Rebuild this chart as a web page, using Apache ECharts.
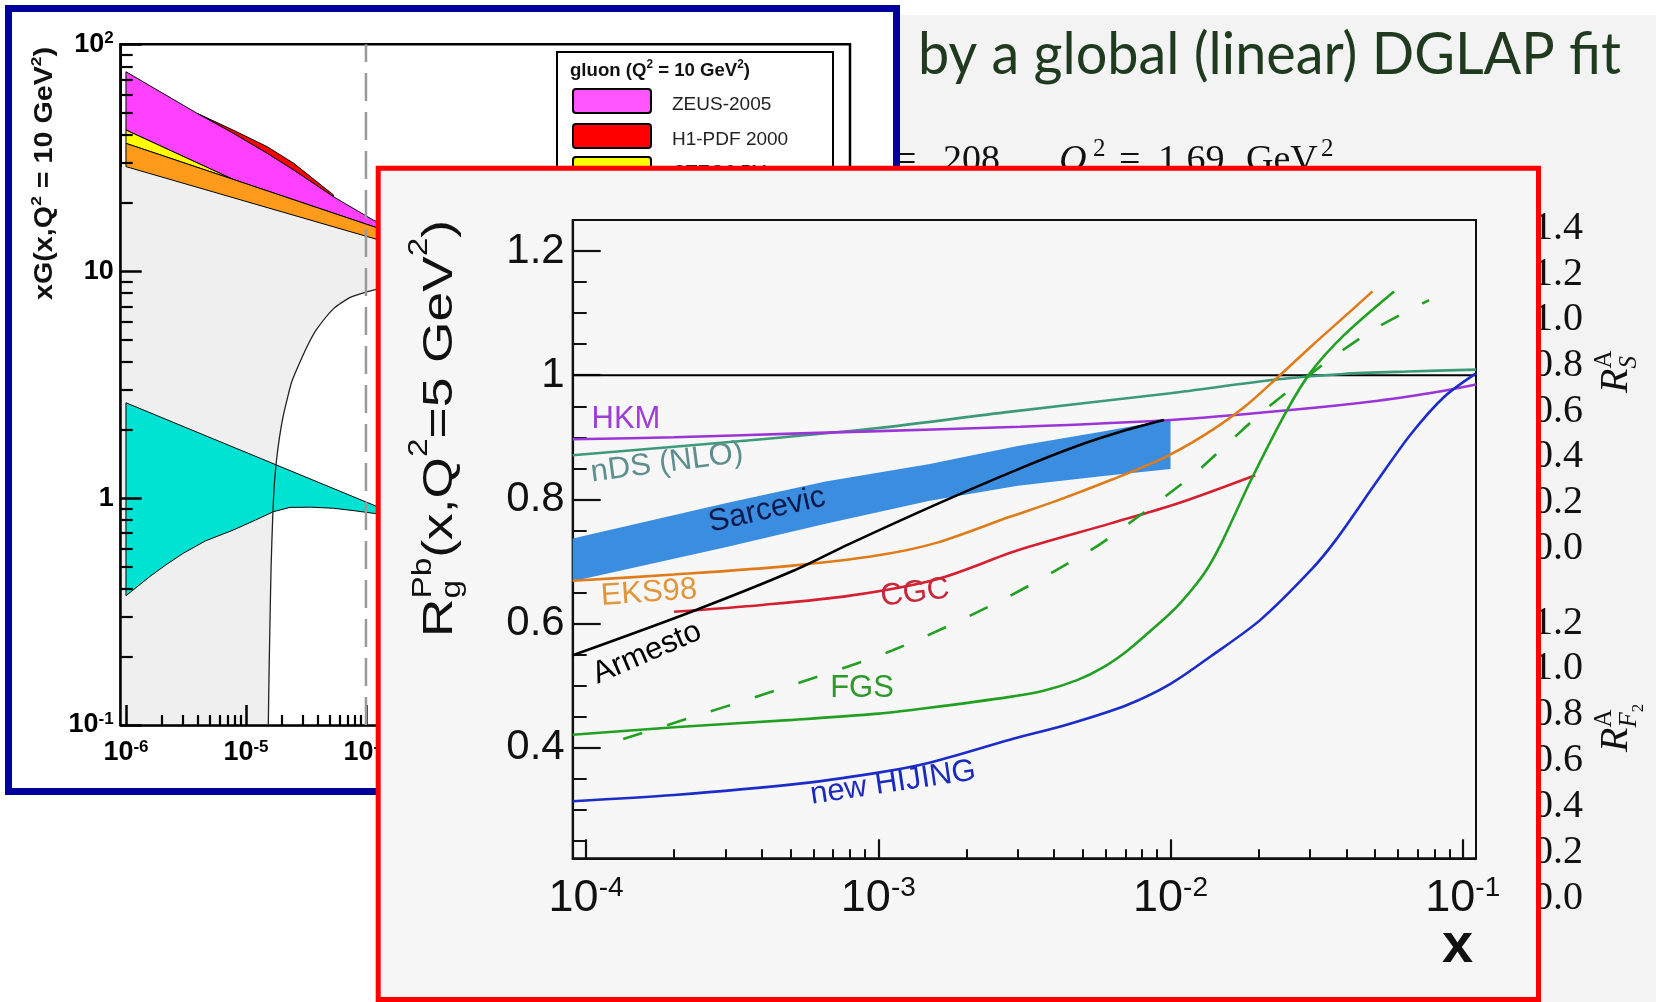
<!DOCTYPE html>
<html><head><meta charset="utf-8">
<script src="https://cdn.jsdelivr.net/npm/echarts@6.0.0/dist/echarts.min.js"></script>
<style>html,body{margin:0;padding:0;background:#fff;}#c{width:1656px;height:1002px;}</style>
</head><body><div id="c"></div>
<script>
// ---------------- main chart: R_g^Pb(x, Q^2 = 5 GeV^2) ----------------
const mainXRange = [9e-5, 0.111];
const mainYRange = [0.222, 1.25];
const mainXTicks = [1e-4, 1e-3, 1e-2, 1e-1];
const mainYTicks = [0.4, 0.6, 0.8, 1, 1.2];
const mainYMinor = [0.25,0.3,0.35,0.45,0.5,0.55,0.65,0.7,0.75,0.85,0.9,0.95,1.05,1.1,1.15];

const hkmX = [9e-5, 2e-4, 5.1e-4, 1e-3, 3.06e-3, 1e-2, 2.57e-2, 5.13e-2, 8.63e-2, 0.111];
const hkmY = [0.897, 0.900, 0.906, 0.910, 0.917, 0.928, 0.944, 0.959, 0.975, 0.985];
const ndsX = [9e-5, 4e-4, 1e-3, 2.8e-3, 1e-2, 2.3e-2, 3.9e-2, 6.5e-2, 0.111];
const ndsY = [0.871, 0.897, 0.915, 0.941, 0.971, 0.993, 1.002, 1.006, 1.009];
const sarX = [9e-5, 3e-4, 6.6e-4, 1.5e-3, 3e-3, 6e-3, 1e-2];
const sarLow = [0.668, 0.723, 0.761, 0.798, 0.822, 0.838, 0.849];
const sarHigh = [0.737, 0.794, 0.829, 0.857, 0.886, 0.910, 0.929];
const armX = [9e-5, 2.32e-4, 5.12e-4, 7.94e-4, 1.58e-3, 3.06e-3, 4.79e-3, 7.1e-3, 9.5e-3];
const armY = [0.549, 0.620, 0.685, 0.728, 0.792, 0.850, 0.886, 0.912, 0.928];
const eksX = [9e-5, 2e-4, 5e-4, 1e-3, 1.58e-3, 2.82e-3, 3.98e-3, 6.31e-3, 9.48e-3, 1.3e-2, 1.78e-2, 2.32e-2, 3.02e-2, 3.93e-2, 4.91e-2];
const eksY = [0.669, 0.679, 0.693, 0.710, 0.730, 0.772, 0.796, 0.832, 0.867, 0.903, 0.948, 0.996, 1.046, 1.094, 1.135];
const cgcX = [2e-4, 4e-4, 8e-4, 1.6e-3, 3e-3, 6.2e-3, 1.05e-2, 1.95e-2];
const cgcY = [0.619, 0.630, 0.645, 0.672, 0.718, 0.761, 0.793, 0.839];
const fgsX = [9e-5, 2e-4, 5.1e-4, 1e-3, 1.47e-3, 2.82e-3, 3.68e-3, 4.79e-3, 5.9e-3, 7.1e-3, 8.53e-3, 1.05e-2, 1.3e-2, 1.48e-2, 1.88e-2, 2.5e-2, 3.02e-2, 3.93e-2, 5.82e-2];
const fgsY = [0.421, 0.433, 0.445, 0.455, 0.464, 0.482, 0.492, 0.509, 0.530, 0.556, 0.588, 0.627, 0.680, 0.726, 0.830, 0.943, 1.005, 1.065, 1.135];
const fgsDashX = [1.34e-4, 2e-4, 4.5e-4, 1.12e-3, 2.7e-3, 5.1e-3, 6e-3, 1.17e-2, 1.56e-2, 2.09e-2, 2.72e-2, 3.72e-2, 5.1e-2, 7.67e-2];
const fgsDashY = [0.414, 0.44, 0.493, 0.557, 0.640, 0.713, 0.734, 0.836, 0.889, 0.943, 0.986, 1.034, 1.077, 1.121];
const hijX = [9e-5, 2e-4, 5.1e-4, 1e-3, 1.47e-3, 2.82e-3, 4.47e-3, 7.1e-3, 1e-2, 1.37e-2, 2.03e-2, 3.02e-2, 3.67e-2, 5.1e-2, 6.64e-2, 8.63e-2, 0.111];
const hijY = [0.314, 0.324, 0.341, 0.360, 0.375, 0.413, 0.438, 0.469, 0.503, 0.547, 0.606, 0.686, 0.734, 0.830, 0.905, 0.965, 1.003];

// ---------------- background chart: xG(x, Q^2 = 10 GeV^2) ----------------
const bgXRange = [9.04e-7, 1.08];
const bgYRange = [0.1, 100];
const bgXTicks = [1e-6, 1e-5, 1e-4, 1e-3, 1e-2, 1e-1, 1];
const bgYTicks = [0.1, 1, 10, 100];
const bandX   = [1e-6, 3.9e-6, 7.8e-6, 1.5e-5, 2.5e-5, 5.35e-5, 1.15e-4, 1.3e-4];
const h1Top   = [75.7, 49.7, 41.9, 35.4, 29.9, 21.7, 16.8, 16.3];
const zeusTop = [75.7, 49.7, 40.6, 33.1, 27.9, 21.3, 16.8, 16.3];
const zeusLowX = [1e-6, 7.8e-6, 1.3e-4];
const zeusLow  = [41.9, 25.4, 15.4];
const cteqX   = [1e-6, 7.8e-6];
const cteqTop = [41.9, 25.4];
const cteqLow = [36.6, 25.4];
const orangeX   = [1e-6, 1.3e-4];
const orangeTop = [36.6, 15.4];
const orangeLow = [28.9, 13.7];
const cyanTopX = [1e-6, 1.3e-4];
const cyanTop  = [2.63, 0.908];
const cyanLowX = [1e-6, 1.58e-6, 2.2e-6, 3e-6, 4.6e-6, 7.83e-6, 1.2e-5, 1.69e-5, 2.33e-5, 3.5e-5, 5.35e-5, 8e-5, 1.15e-4, 1.3e-4];
const cyanLow  = [0.371, 0.451, 0.512, 0.571, 0.648, 0.723, 0.800, 0.871, 0.910, 0.912, 0.902, 0.880, 0.857, 0.85];
const edgeX = [1.535e-5, 1.56e-5, 1.585e-5, 1.62e-5, 1.667e-5, 1.718e-5, 1.80e-5, 1.905e-5, 2.04e-5, 2.19e-5, 2.40e-5, 2.82e-5, 3.39e-5, 3.89e-5, 5.37e-5, 7.41e-5, 1.15e-4, 1.3e-4];
const edgeY = [0.1, 0.178, 0.282, 0.501, 0.794, 1.122, 1.479, 1.862, 2.29, 2.69, 3.24, 3.98, 4.90, 5.56, 6.84, 7.67, 8.26, 8.41];
const bgCutX = [1e-4];

// ---------------- side panel tick labels ----------------
const rsLabels = ['1.4','1.2','1.0','0.8','0.6','0.4','0.2','0.0'];
const rf2Labels = ['1.2','1.0','0.8','0.6','0.4','0.2','0.0'];

// ================= helpers =================
const F = '"Liberation Sans", Arial, Helvetica, sans-serif';
const SERIF = '"Liberation Serif", "Times New Roman", serif';
const mctx = document.createElement('canvas').getContext('2d');
function tw(t, font){ mctx.font = font; return mctx.measureText(t).width; }
function midOff(font){
  mctx.font = font; mctx.textBaseline = 'alphabetic';
  const m = mctx.measureText('Hg');
  if (m.fontBoundingBoxAscent === undefined) return 0.35 * parseFloat(font.match(/(\d+(\.\d+)?)px/)[1]);
  return (m.fontBoundingBoxAscent - m.fontBoundingBoxDescent) / 2;
}
function T(t, x, yb, font, fill, o){
  o = o || {};
  return {type:'text', x, y: yb - midOff(font), z: o.z === undefined ? 10 : o.z, rotation: o.rot || 0, scaleX: o.sx || 1,
    silent:true, style:{text:t, font, fill, align:o.align || 'left', verticalAlign:'middle'}};
}
function C(t, cx, cy, font, fill, deg){
  return {type:'text', x:cx, y:cy, z:10, rotation: (deg||0) * Math.PI/180, silent:true,
    style:{text:t, font, fill, align:'center', verticalAlign:'middle'}};
}
function mathRow(segs, fam, color, z){
  let x = 0; const ch = [];
  for (const s of segs){
    const font = (s.it ? 'italic ' : '') + (s.b ? 'bold ' : '') + s.fs + 'px ' + (s.fam || fam);
    if (!s.ghost) ch.push({type:'text', x: x + (s.dx || 0), y: (s.dy || 0) - midOff(font), z, silent:true,
      style:{text:s.t, font, fill:color, align:'left', verticalAlign:'middle'}});
    if (!s.noadv) x += tw(s.t, font) + (s.dx || 0);
  }
  return {ch, w:x};
}
function minorTicks(d0, d1, min, max){
  const r = [];
  for (let d = d0; d <= d1; d++) for (let k = 2; k <= 9; k++){ const v = k * Math.pow(10, d); if (v >= min && v <= max) r.push(v); }
  return r;
}
const pairs = (X, Y) => X.map((x, i) => [x, Y[i]]);

// ================= graphics =================
const G = [];
G.push({type:'rect', z:-20, silent:true, shape:{x:0, y:0, width:1656, height:1002}, style:{fill:'#ffffff'}});
G.push({type:'rect', z:-19, silent:true, shape:{x:900, y:15, width:756, height:987}, style:{fill:'#f3f3f3'}});
G.push({type:'rect', z:-18, silent:true, shape:{x:8.5, y:8.5, width:888, height:783}, style:{fill:'#ffffff'}});
G.push({type:'rect', z:4, silent:true, shape:{x:8.5, y:8.5, width:888, height:783}, style:{fill:'none', stroke:'#00009a', lineWidth:7}});

// slide heading
(function(){
  const font = '58px Lato, "Open Sans", sans-serif';
  const str = 'by a global (linear) DGLAP fit';
  const w = tw(str, font);
  G.push(T(str, 918, 78, font, '#1f3a1f', {z:1, sx: 703 / w}));
})();
// partially hidden formula
(function(){
  const f = '38px ' + SERIF, fi = 'italic 38px ' + SERIF, fs = '25px ' + SERIF;
  G.push(T('=', 895, 174, f, '#111', {z:1}));
  G.push(T('208', 943, 174, f, '#111', {z:1}));
  G.push(T('Q', 1059, 174, fi, '#111', {z:1}));
  G.push(T('2', 1093, 158, fs, '#111', {z:1}));
  G.push(T('=', 1119, 174, f, '#111', {z:1}));
  G.push(T('1.69', 1158, 174, f, '#111', {z:1}));
  G.push(T('GeV', 1246, 174, f, '#111', {z:1}));
  G.push(T('2', 1321, 158, fs, '#111', {z:1}));
})();
// side panel labels
(function(){
  const f = '40px ' + SERIF;
  rsLabels.forEach((s, i) => G.push(T(s, 1583, 227.8 + 45.7 * i + 14, f, '#111', {z:1, align:'right'})));
  rf2Labels.forEach((s, i) => G.push(T(s, 1583, 622.6 + 45.85 * i + 14, f, '#111', {z:1, align:'right'})));
  const r1 = mathRow([{t:'R', fs:40, it:true}, {t:'S', fs:25, it:true, dy:8, noadv:true}, {t:'A', fs:25, dy:-17}], SERIF, '#111', 1);
  G.push({type:'group', x:1630, y:393, rotation:Math.PI/2, children:r1.ch});
  const r2 = mathRow([{t:'R', fs:40, it:true}, {t:'F', fs:25, it:true, dy:8, noadv:true}, {t:'A', fs:25, dy:-17, noadv:true},
                      {t:'F', fs:25, it:true, dy:8, ghost:true}, {t:'2', fs:17, dy:14}], SERIF, '#111', 1);
  G.push({type:'group', x:1630, y:752, rotation:Math.PI/2, children:r2.ch});
})();
// legend of background chart
(function(){
  G.push({type:'rect', z:4, silent:true, shape:{x:557, y:52, width:276, height:260}, style:{fill:'#fff', stroke:'#000', lineWidth:2}});
  const t = mathRow([{t:'gluon (Q', fs:19, b:true}, {t:'2', fs:12, b:true, dy:-8}, {t:' = 10 GeV', fs:19, b:true}, {t:'2', fs:12, b:true, dy:-8}, {t:')', fs:19, b:true}], F, '#111', 4);
  G.push({type:'group', x:570, y:77, scaleX: 180 / t.w, children:t.ch});
  const sw = [['#ff55ff', 89, 'ZEUS-2005'], ['#ff0000', 124, 'H1-PDF 2000'], ['#ffff00', 157, 'CTEQ6.5M']];
  sw.forEach(s => {
    G.push({type:'rect', z:4, silent:true, shape:{x:573, y:s[1], width:78, height:24, r:3}, style:{fill:s[0], stroke:'#000', lineWidth:2}});
    G.push(T(s[2], 672, s[1] + 22, '19px ' + F, '#222', {z:4}));
  });
})();
// blue chart y title
(function(){
  const t = mathRow([{t:'xG(x,Q', fs:25, b:true}, {t:'2', fs:15, b:true, dy:-12}, {t:' = 10 GeV', fs:25, b:true}, {t:'2', fs:15, b:true, dy:-12}, {t:')', fs:25, b:true}], F, '#111', 3);
  G.push({type:'group', x:54, y:300, rotation:Math.PI/2, scaleX: 253 / t.w, children:t.ch});
})();
// red panel
G.push({type:'rect', z:5, silent:true, shape:{x:378.2, y:168.2, width:1160.3, height:831.3}, style:{fill:'#f6f6f6', stroke:'#ff0000', lineWidth:5}});
// main y title
(function(){
  const t = mathRow([
    {t:'R', fs:43}, {t:'g', fs:27, dy:7, noadv:true}, {t:'Pb', fs:27, dy:-22},
    {t:'(x,Q', fs:43}, {t:'2', fs:27, dy:-26}, {t:'=5 GeV', fs:43}, {t:'2', fs:27, dy:-26}, {t:')', fs:43}
  ], F, '#111', 10);
  G.push({type:'group', x:455, y:637, rotation:Math.PI/2, scaleX: 417 / t.w, children:t.ch});
})();
// x axis title
G.push(T('x', 1442, 966, 'bold 56px ' + F, '#111', {z:10}));
// curve labels
const LF = '31px ' + F;
G.push(C('HKM', 626, 419, LF, '#9b3fd6', 0));
G.push(C('nDS (NLO)', 667, 463, LF, '#5e8f8f', 7.5));
G.push(C('Sarcevic', 767, 510, LF, '#0b1a4a', 13));
G.push(C('EKS98', 649, 593, LF, '#e3953a', 4));
G.push(C('CGC', 915, 593, LF, '#c8283a', 7));
G.push(C('Armesto', 647, 653, LF, '#000000', 23.5));
G.push(C('FGS', 862, 688, LF, '#2b9a2b', 0));
G.push(C('new HIJING', 893, 783, LF, '#1b2bbb', 8.5));

// ================= series =================
function poly(name, axisIdx, top, bottom, fill, z, stroke){
  return {type:'custom', name, xAxisIndex:axisIdx, yAxisIndex:axisIdx, z, silent:true, clip:true,
    data:[top[0]], encode:{x:0, y:1},
    renderItem:(p, api) => {
      const pts = top.concat(bottom.slice().reverse()).map(d => api.coord(d));
      return {type:'polygon', shape:{points:pts}, style:{fill, stroke: stroke || 'none', lineWidth: stroke ? 1 : 0}};
    }};
}
function mline(name, X, Y, color, extra){
  return Object.assign({type:'line', name, xAxisIndex:2, yAxisIndex:2, data:pairs(X, Y), showSymbol:false, symbol:'none',
    smooth:0.3, lineStyle:{color, width:2.6}, z:9, silent:true, clip:true}, extra || {});
}
const series = [
  // background chart
  {type:'line', name:'greyArea', xAxisIndex:0, yAxisIndex:0, z:2, silent:true, symbol:'none', showSymbol:false,
   data:[[bgXRange[0], orangeLow[0]]].concat(pairs(orangeX, orangeLow)), lineStyle:{width:0, opacity:0},
   areaStyle:{color:'#efefef', opacity:1, origin:'start'}},
  {type:'line', name:'whiteArea', xAxisIndex:0, yAxisIndex:0, z:2, silent:true, symbol:'none', showSymbol:false, smooth:0.2,
   data:pairs(edgeX, edgeY), lineStyle:{width:0, opacity:0}, areaStyle:{color:'#ffffff', opacity:1, origin:'start'}},
  poly('H1', 0, pairs(bandX, h1Top).slice(1, 6), pairs(bandX, zeusTop).slice(1, 6), '#ff0000', 2, '#000'),
  poly('ZEUS', 0, pairs(bandX, zeusTop), pairs(zeusLowX, zeusLow), '#ff40ff', 2, '#000'),
  poly('CTEQ', 0, pairs(cteqX, cteqTop), pairs(cteqX, cteqLow), '#ffff00', 2, '#000'),
  poly('orange', 0, pairs(orangeX, orangeTop), pairs(orangeX, orangeLow), '#ff9a1a', 2, '#000'),
  poly('cyan', 0, pairs(cyanTopX, cyanTop), pairs(cyanLowX, cyanLow), '#00e3d3', 2, '#000'),
  {type:'line', name:'edge', xAxisIndex:0, yAxisIndex:0, z:3, silent:true, symbol:'none', showSymbol:false, smooth:0.2,
   data:pairs(edgeX, edgeY), lineStyle:{color:'#222', width:1.3}},
  {type:'line', name:'cut', xAxisIndex:0, yAxisIndex:0, z:3, silent:true, symbol:'none', showSymbol:false,
   data:[[bgCutX[0], bgYRange[0]], [bgCutX[0], bgYRange[1]]], lineStyle:{color:'#999', width:2.5, type:[28, 11]}},
  // main chart
  poly('Sarcevic', 2, pairs(sarX, sarHigh), pairs(sarX, sarLow), '#3b8de0', 8, null),
  mline('unity', mainXRange, [1, 1], '#000', {smooth:false, lineStyle:{color:'#000', width:2.2}}),
  mline('nDS', ndsX, ndsY, '#3d9a78'),
  mline('HKM', hkmX, hkmY, '#9b35d8'),
  mline('EKS98', eksX, eksY, '#e07b1a'),
  mline('CGC', cgcX, cgcY, '#d42030'),
  mline('FGSdash', fgsDashX, fgsDashY, '#22a022', {lineStyle:{color:'#22a022', width:2.6, type:[20, 26]}}),
  mline('FGS', fgsX, fgsY, '#22a022'),
  mline('HIJING', hijX, hijY, '#1c2cc8'),
  mline('Armesto', armX, armY, '#000')
];

// ================= axes =================
const bgXMinor = minorTicks(-7, 0, bgXRange[0], bgXRange[1]);
const bgYMinor = minorTicks(-1, 1, bgYRange[0], bgYRange[1]);
const mainXMinor = minorTicks(-5, -1, mainXRange[0], mainXRange[1]);
const expFmt = v => '{b|10}{s|' + Math.round(Math.log10(v)) + '}';
const none = {show:false};

const xAxis = [
  {type:'log', gridIndex:0, min:bgXRange[0], max:bgXRange[1], position:'bottom', z:3,
   axisLine:{show:true, onZero:false, lineStyle:{color:'#000', width:2.5}},
   axisTick:{show:true, inside:true, length:20, customValues:bgXTicks, lineStyle:{color:'#000', width:2.5}},
   axisLabel:{show:true, customValues:bgXTicks, margin:14, formatter:expFmt,
     rich:{b:{fontFamily:F, fontWeight:'bold', fontSize:27, lineHeight:28, color:'#000'},
           s:{fontFamily:F, fontWeight:'bold', fontSize:17, lineHeight:17, verticalAlign:'top', color:'#000'}}},
   splitLine:none},
  {type:'log', gridIndex:0, min:bgXRange[0], max:bgXRange[1], position:'bottom', z:3,
   axisLine:none, axisTick:{show:true, inside:true, length:10, customValues:bgXMinor, lineStyle:{color:'#000', width:2.2}},
   axisLabel:none, splitLine:none},
  {type:'log', gridIndex:1, min:mainXRange[0], max:mainXRange[1], position:'bottom', z:7,
   axisLine:{show:true, onZero:false, lineStyle:{color:'#111', width:2.2}},
   axisTick:{show:true, inside:true, length:19, customValues:mainXTicks, lineStyle:{color:'#111', width:2.2}},
   axisLabel:{show:true, customValues:mainXTicks, margin:16, formatter:expFmt,
     rich:{b:{fontFamily:F, fontSize:45, lineHeight:48, color:'#111'},
           s:{fontFamily:F, fontSize:28, lineHeight:28, verticalAlign:'top', color:'#111'}}},
   splitLine:none},
  {type:'log', gridIndex:1, min:mainXRange[0], max:mainXRange[1], position:'bottom', z:7,
   axisLine:none, axisTick:{show:true, inside:true, length:9, customValues:mainXMinor, lineStyle:{color:'#111', width:2}},
   axisLabel:none, splitLine:none}
];
const yAxis = [
  {type:'log', gridIndex:0, min:bgYRange[0], max:bgYRange[1], position:'left', z:3,
   axisLine:{show:true, onZero:false, lineStyle:{color:'#000', width:2.5}},
   axisTick:{show:true, inside:true, length:21, customValues:bgYTicks, lineStyle:{color:'#000', width:2.5}},
   axisLabel:{show:true, customValues:bgYTicks, margin:7, formatter:v => {
       const e = Math.round(Math.log10(v));
       return e === 1 ? '{b|10}' : e === 0 ? '{b|1}' : '{b|10}{s|' + e + '}'; },
     rich:{b:{fontFamily:F, fontWeight:'bold', fontSize:27, lineHeight:28, color:'#000'},
           s:{fontFamily:F, fontWeight:'bold', fontSize:17, lineHeight:17, verticalAlign:'top', color:'#000'}}},
   splitLine:none},
  {type:'log', gridIndex:0, min:bgYRange[0], max:bgYRange[1], position:'left', z:3,
   axisLine:none, axisTick:{show:true, inside:true, length:12, customValues:bgYMinor, lineStyle:{color:'#000', width:2.2}},
   axisLabel:none, splitLine:none},
  {type:'value', gridIndex:1, min:mainYRange[0], max:mainYRange[1], position:'left', z:7,
   axisLine:{show:true, onZero:false, lineStyle:{color:'#111', width:2.2}},
   axisTick:{show:true, inside:true, length:28, customValues:mainYTicks, lineStyle:{color:'#111', width:2.2}},
   axisLabel:{show:true, customValues:mainYTicks, margin:8, padding:[10,0,0,0], fontFamily:F, fontSize:42, color:'#111',
     formatter:v => (Math.abs(v - 1) < 1e-9 ? '1' : v.toFixed(1))},
   splitLine:none},
  {type:'value', gridIndex:1, min:mainYRange[0], max:mainYRange[1], position:'left', z:7,
   axisLine:none, axisTick:{show:true, inside:true, length:14, customValues:mainYMinor, lineStyle:{color:'#111', width:2}},
   axisLabel:none, splitLine:none}
];

const chart = echarts.init(document.getElementById('c'), null, {renderer:'canvas', width:1656, height:1002});
chart.setOption({
  animation:false,
  grid:[
    {left:120.7, top:44.3, width:729.3, height:680.7, show:true, borderColor:'#000', borderWidth:2.5, backgroundColor:'transparent', z:1},
    {left:572.7, top:220, width:903.3, height:638.3, show:true, borderColor:'#111', borderWidth:2, backgroundColor:'#f7f7f7', z:6}
  ],
  xAxis, yAxis, series, graphic:{elements:G}
});
</script></body></html>
